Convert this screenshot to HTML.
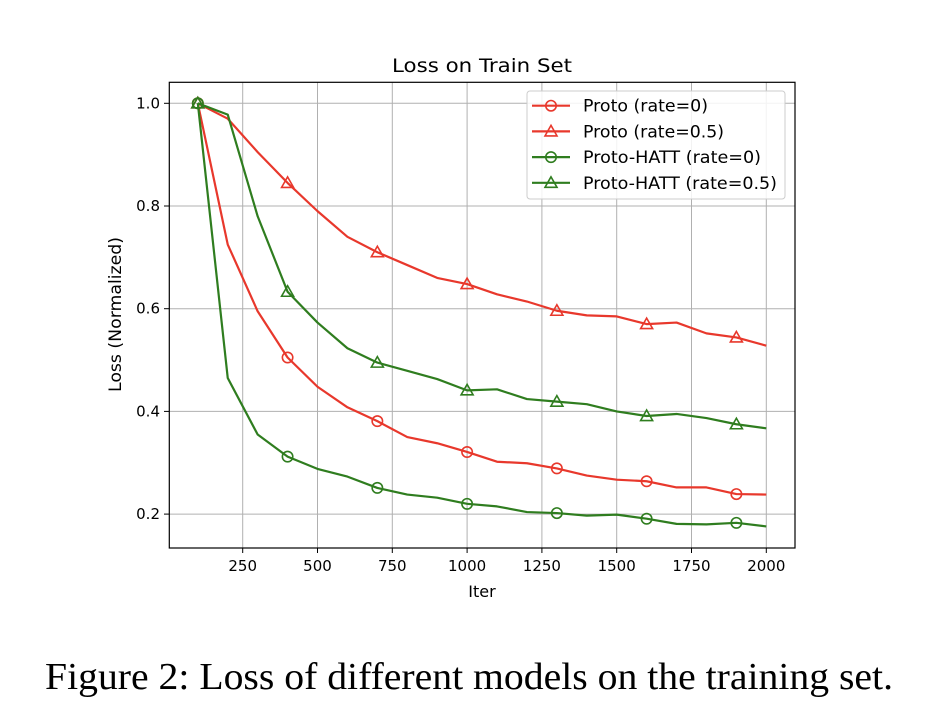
<!DOCTYPE html>
<html><head><meta charset="utf-8"><style>
body{margin:0;background:#fff;width:946px;height:728px;overflow:hidden}
svg{display:block;font-family:"DejaVu Sans","Liberation Sans",sans-serif}
</style></head><body>
<svg id="chart" width="946" height="728">
<g id="grid"></g>
<g id="series"></g>
<rect x="169.3" y="82.3" width="625.7" height="465.7" fill="none" stroke="#000" stroke-width="1.2"/>
<g id="ticks"></g>
<text x="392" y="72" font-size="19" textLength="180" lengthAdjust="spacingAndGlyphs">Loss on Train Set</text>
<text x="482" y="597" font-size="16" text-anchor="middle">Iter</text>
<text transform="translate(121,392) rotate(-90)" font-size="16.5" textLength="155" lengthAdjust="spacingAndGlyphs">Loss (Normalized)</text>
<g id="legend">
<rect x="527" y="91" width="258" height="108" rx="3" fill="#fff" fill-opacity="0.85" stroke="#ccc"/>
</g>
<text x="45" y="689" font-size="38" font-family="'Liberation Serif',serif" textLength="848" lengthAdjust="spacingAndGlyphs">Figure 2: Loss of different models on the training set.</text>
</svg>
<script>
const iters=[100,200,300,400,500,600,700,800,900,1000,1100,1200,1300,1400,1500,1600,1700,1800,1900,2000];
const protoRate0=[1.0,0.725,0.595,0.505,0.448,0.408,0.381,0.350,0.338,0.321,0.302,0.299,0.289,0.275,0.267,0.264,0.252,0.252,0.239,0.238];
const protoRate05=[1.0,0.97,0.905,0.845,0.79,0.74,0.71,0.685,0.66,0.648,0.628,0.614,0.596,0.587,0.585,0.570,0.573,0.552,0.544,0.528];
const hattRate0=[1.0,0.465,0.355,0.312,0.288,0.273,0.251,0.238,0.232,0.220,0.215,0.204,0.202,0.197,0.199,0.191,0.181,0.180,0.183,0.176];
const hattRate05=[1.0,0.978,0.78,0.633,0.573,0.523,0.495,0.479,0.463,0.441,0.443,0.424,0.419,0.414,0.400,0.391,0.395,0.387,0.375,0.367];
const xTicks=[250,500,750,1000,1250,1500,1750,2000];
const yTicks=[0.2,0.4,0.6,0.8,1.0];
const seriesNames=["Proto (rate=0)","Proto (rate=0.5)","Proto-HATT (rate=0)","Proto-HATT (rate=0.5)"];

const NS="http://www.w3.org/2000/svg";
const X=v=>242.7+(v-250)*0.2992;
const Y=v=>103.3+(1-v)*513.5;
function mk(tag,attrs,parent){const e=document.createElementNS(NS,tag);for(const k in attrs)e.setAttribute(k,attrs[k]);parent.appendChild(e);return e;}
const grid=document.getElementById('grid'),ticks=document.getElementById('ticks'),ser=document.getElementById('series'),leg=document.getElementById('legend');
xTicks.forEach(t=>{
  const l=mk('line',{x1:X(t),x2:X(t),y1:82.3,y2:548,stroke:'#b0b0b0','stroke-width':1},grid);
  
  
  mk('line',{x1:X(t),x2:X(t),y1:548,y2:553,stroke:'#000'},ticks);
  const tx=mk('text',{x:X(t),y:571,'font-size':15,'text-anchor':'middle'},ticks);tx.textContent=t;
  
  
});
yTicks.forEach(t=>{
  const l=mk('line',{x1:169.3,x2:795,y1:Y(t),y2:Y(t),stroke:'#b0b0b0','stroke-width':1},grid);
  
  
  mk('line',{x1:164,x2:169.3,y1:Y(t),y2:Y(t),stroke:'#000'},ticks);
  const tx=mk('text',{x:160,y:Y(t)+5,'font-size':15,'text-anchor':'end'},ticks);tx.textContent=t.toFixed(1);
  
  
});
const RED='#e8382c',GREEN='#2f7d1f';
function marker(type,x,y,c,p){
  if(type==='o')return mk('circle',{cx:x,cy:y,r:5.2,fill:'none',stroke:c,'stroke-width':1.6},p);
  return mk('polygon',{points:`${x},${y-6} ${x-6},${y+4.5} ${x+6},${y+4.5}`,fill:'none',stroke:c,'stroke-width':1.6},p);
}
const defs=[[protoRate0,RED,'o','proto-rate-0'],[protoRate05,RED,'t','proto-rate-0-5'],[hattRate0,GREEN,'o','proto-hatt-rate-0'],[hattRate05,GREEN,'t','proto-hatt-rate-0-5']];
const legW=[125,141,178,194];
defs.forEach(([vals,c,m,name],si)=>{
  const g=mk('g',{},ser);
  
  
  const pl=mk('polyline',{points:vals.map((v,i)=>X(iters[i])+','+Y(v)).join(' '),fill:'none',stroke:c,'stroke-width':2.2,'stroke-linejoin':'round'},g);
  
  
  vals.forEach((v,i)=>{if(i%3===0){const mm=marker(m,X(iters[i]),Y(v),c,g);
    
    }});
  const ly=105.7+si*25.7;
  const le=mk('g',{},leg);
  
  
  mk('line',{x1:532,x2:570,y1:ly,y2:ly,stroke:c,'stroke-width':2.2},le);
  marker(m,551,ly,c,le);
  const t=mk('text',{x:583,y:ly+6,'font-size':17,textLength:legW[si],lengthAdjust:'spacingAndGlyphs'},le);t.textContent=seriesNames[si];
});
</script>
</body></html>
